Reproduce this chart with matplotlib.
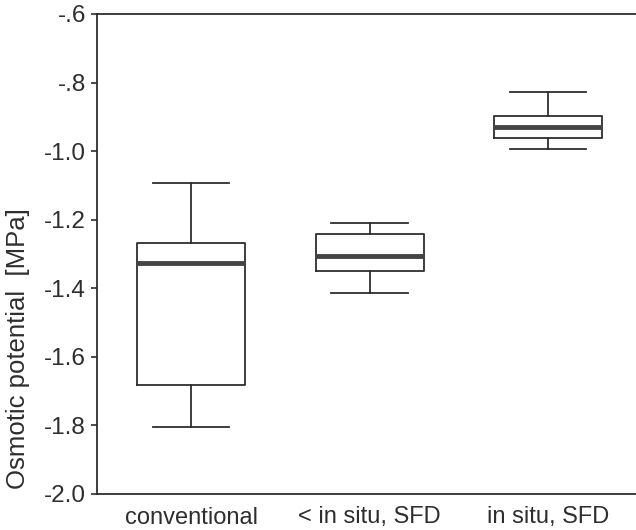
import matplotlib
matplotlib.use("Agg")
import matplotlib.pyplot as plt

categories = ["conventional", "< in situ, SFD", "in situ, SFD"]
whisker_low = [-1.804, -1.415, -0.994]
q1 = [-1.682, -1.349, -0.962]
median = [-1.325, -1.305, -0.930]
q3 = [-1.267, -1.243, -0.897]
whisker_high = [-1.092, -1.209, -0.828]
yticks = [-2.0, -1.8, -1.6, -1.4, -1.2, -1.0, -0.8, -0.6]
yticklabels = ["-2.0", "-1.8", "-1.6", "-1.4", "-1.2", "-1.0", "-.8", "-.6"]

plt.rcParams['font.family'] = ['Liberation Sans', 'DejaVu Sans']
W, H = 636, 530
fig = plt.figure(figsize=(W / 100, H / 100), dpi=100)
left, right, top, bottom = 97, 636, 14, 494
ax = fig.add_axes([left / W, 1 - bottom / H, (right - left) / W, (bottom - top) / H])

stats = []
for i, c in enumerate(categories):
    stats.append(dict(label=c, whislo=whisker_low[i], q1=q1[i], med=median[i],
                      q3=q3[i], whishi=whisker_high[i], fliers=[]))

col = "#2e2e2e"
ax.bxp(stats, positions=[1, 2, 3], widths=0.605, showfliers=False,
       boxprops=dict(color=col, linewidth=1.3),
       whiskerprops=dict(color=col, linewidth=1.3),
       capprops=dict(color=col, linewidth=1.3),
       medianprops=dict(color="#444444", linewidth=3.5, solid_capstyle='butt'),
       capwidths=0.43)

ax.set_xlim(0.473, 3.493)
ax.set_ylim(-2.0, -0.6)
ax.set_yticks(yticks)
ax.set_yticklabels(yticklabels, fontsize=17.5, color=col)
ax.set_xticks([1, 2, 3])
ax.set_xticklabels(categories, fontsize=17, color=col)
ax.tick_params(axis='x', length=0, pad=9)
ax.tick_params(axis='y', length=4, width=1.2, color=col, pad=4)
for s in ['left', 'top', 'bottom']:
    ax.spines[s].set_color(col)
    ax.spines[s].set_linewidth(1.3)
ax.spines['right'].set_visible(False)

fig.text(18 / W, 1 - 349 / H, "Osmotic potential  [MPa]", rotation=90,
         ha='center', va='center', fontsize=18.5, color=col)

fig.savefig("out.png", dpi=100)
